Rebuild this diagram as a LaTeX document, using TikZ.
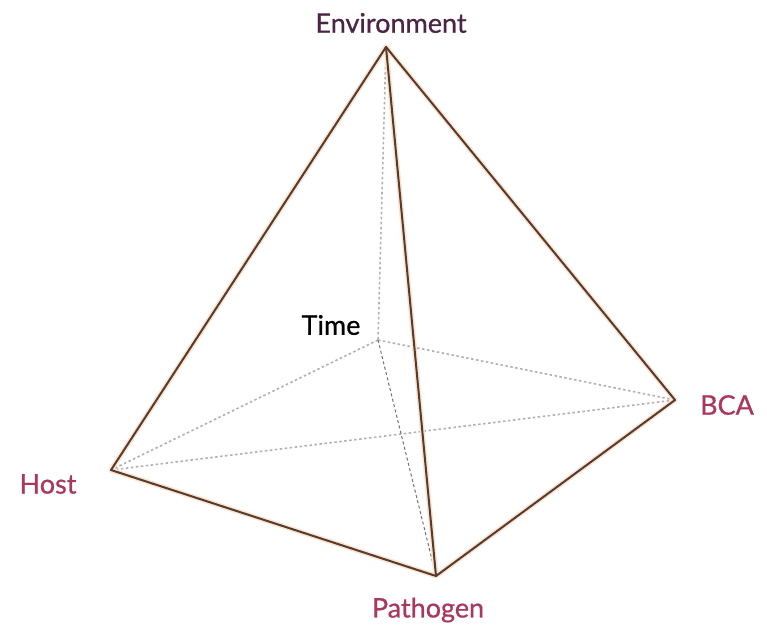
\documentclass[tikz,border=0pt]{standalone}
\usepackage{fontspec}
\setmainfont{Lato}
\newfontfamily\labfont{Lato}[FakeBold=0.7]
\definecolor{edgebrown}{HTML}{5A3A28}
\definecolor{glow}{HTML}{F8E4D4}
\definecolor{envcol}{HTML}{4A2545}
\definecolor{labcol}{HTML}{A8385E}
\definecolor{dotgray}{HTML}{B4B0AC}
\definecolor{dashgray}{HTML}{707070}
\tikzset{
  solidedge/.style={draw=edgebrown, line width=2pt, line cap=round, line join=round},
  glowedge/.style={draw=glow, line width=5pt, line cap=round, line join=round},
  hidden/.style={draw=dotgray, line width=1.6pt, dash pattern=on 2.5pt off 2.5pt},
  hiddendark/.style={draw=dashgray, line width=1pt, dash pattern=on 3pt off 2.5pt},
  lab/.style={font=\labfont\fontsize{27}{30}\selectfont, inner sep=0pt}
}
\begin{document}
\begin{tikzpicture}[x=1pt,y=-1pt]
\useasboundingbox[fill=white] (0,0) rectangle (767,630);
\coordinate (A) at (386,47);
\coordinate (H) at (111,470);
\coordinate (P) at (436,576);
\coordinate (B) at (675,400);
\coordinate (T) at (378,340);
% hidden edges
\draw[hidden] (A) -- (T);
\draw[hidden] (T) -- (H);
\draw[hidden] (T) -- (B);
\draw[hidden] (H) -- (B);
\draw[hiddendark] (T) -- (P);
% glow
\draw[glowedge] (A) -- (H) -- (P) -- (B) -- cycle;
\draw[glowedge] (A) -- (P);
% visible edges
\draw[solidedge] (A) -- (H) -- (P) -- (B) -- cycle;
\draw[solidedge] (A) -- (P);
% labels
\node[lab, text=envcol] (envlab) at (391,23) {Environment};
\node[lab, text=black] (timelab) at (331,325) {Time};
\node[lab, text=labcol] (hostlab) at (48,484) {Host};
\node[lab, text=labcol] (pathlab) at (428,610) {Pathogen};
\node[lab, text=labcol] (bcalab) at (727,405) {BCA};
\end{tikzpicture}
\end{document}
